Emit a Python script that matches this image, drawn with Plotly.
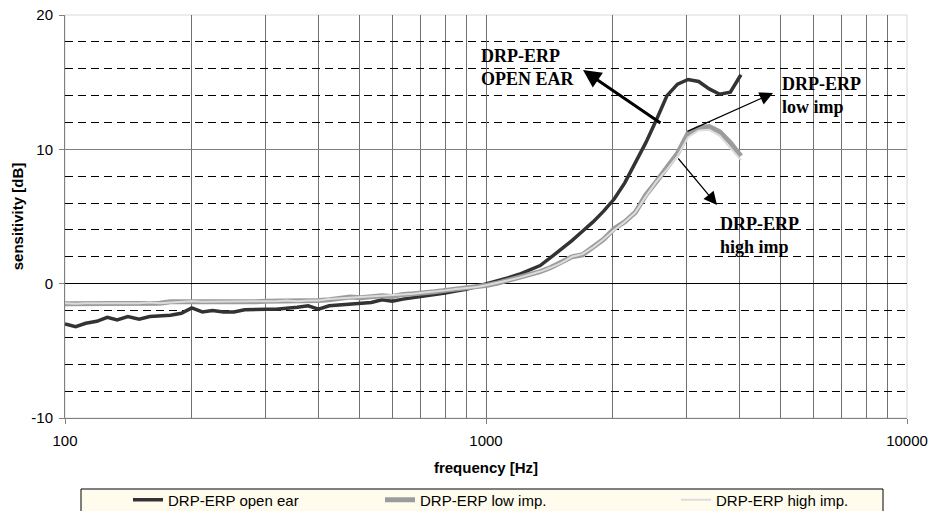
import plotly.graph_objects as go

freq_hz = [100, 106, 112, 119, 126, 133, 141, 150, 159, 168, 178, 189, 200, 212, 224, 238,
           252, 267, 283, 300, 317, 336, 356, 378, 400, 424, 449, 476, 504, 534, 566, 599,
           635, 673, 713, 755, 800, 848, 898, 951, 1008, 1068, 1131, 1199, 1270, 1345, 1425,
           1510, 1600, 1695, 1796, 1903, 2016, 2136, 2263, 2397, 2540, 2691, 2851, 3020, 3200,
           3390, 3592, 3805, 4032]

open_ear = [-3.0, -3.2, -2.95, -2.8, -2.5, -2.7, -2.45, -2.65, -2.45, -2.4,
            -2.35, -2.2, -1.8, -2.1, -2.0, -2.1, -2.1, -1.95, -1.9, -1.9,
            -1.9, -1.85, -1.75, -1.65, -1.9, -1.65, -1.6, -1.55, -1.5, -1.4,
            -1.2, -1.3, -1.15, -1.05, -0.95, -0.8, -0.7, -0.55, -0.42, -0.2,
            0.0, 0.25, 0.45, 0.7, 1.0, 1.35, 1.95, 2.55, 3.2, 3.9,
            4.6, 5.4, 6.3, 7.5, 9.0, 10.5, 12.2, 14.0, 14.85, 15.2,
            15.05, 14.5, 14.1, 14.25, 15.55]

low_imp = [-1.5, -1.5, -1.5, -1.45, -1.5, -1.45, -1.45, -1.5, -1.45, -1.45,
           -1.35, -1.35, -1.35, -1.35, -1.4, -1.35, -1.35, -1.35, -1.35, -1.3,
           -1.3, -1.3, -1.3, -1.3, -1.25, -1.2, -1.1, -1.0, -1.05, -0.95,
           -0.9, -0.95, -0.8, -0.75, -0.7, -0.6, -0.5, -0.42, -0.35, -0.25,
           -0.12, 0.05, 0.25, 0.45, 0.65, 0.9, 1.2, 1.6, 2.0, 2.15,
           2.7, 3.3, 4.1, 4.6, 5.3, 6.6, 7.6, 8.6, 9.7, 11.2,
           11.6, 11.7, 11.3, 10.5, 9.5]

high_imp = [-1.45, -1.5, -1.45, -1.45, -1.45, -1.5, -1.45, -1.45, -1.4, -1.45,
            -1.4, -1.35, -1.3, -1.35, -1.35, -1.35, -1.3, -1.35, -1.3, -1.3,
            -1.3, -1.25, -1.3, -1.25, -1.25, -1.15, -1.1, -1.05, -1.0, -0.95,
            -0.9, -0.9, -0.8, -0.75, -0.65, -0.6, -0.5, -0.4, -0.35, -0.25,
            -0.1, 0.05, 0.25, 0.45, 0.65, 0.9, 1.2, 1.55, 2.0, 2.2,
            2.7, 3.3, 4.0, 4.6, 5.3, 6.5, 7.6, 8.5, 9.5, 10.9,
            11.4, 11.45, 11.0, 10.1, 9.2]

major_x_ticks = [100, 1000, 10000]
minor_x_ticks = [200, 300, 400, 500, 600, 700, 800, 900,
                 2000, 3000, 4000, 5000, 6000, 7000, 8000, 9000]
y_ticks = [-10, 0, 10, 20]

W, H = 933, 511
ML, MR, MT, MB = 65, 26, 15, 93
PW, PH = W - ML - MR, H - MT - MB


def px(xp):
    return (xp - ML) / PW


def py(yp):
    return (H - MB - yp) / PH


fig = go.Figure()
fig.add_trace(go.Scatter(x=freq_hz, y=open_ear, mode="lines", name="DRP-ERP open ear",
                         line=dict(color="#333333", width=3.5), legend="legend"))
fig.add_trace(go.Scatter(x=freq_hz, y=low_imp, mode="lines", name="DRP-ERP low imp.",
                         line=dict(color="#9c9c9c", width=5), legend="legend2"))
fig.add_trace(go.Scatter(x=freq_hz, y=high_imp, mode="lines", name="DRP-ERP high imp.",
                         line=dict(color="#dcdcdc", width=2), legend="legend3"))

# legend box
fig.add_shape(type="rect", xref="paper", yref="paper",
              x0=px(81), x1=px(883), y0=py(515), y1=py(489),
              fillcolor="#FFFCEE", line=dict(color="black", width=1), layer="below")
# plot area light border
fig.add_shape(type="rect", xref="paper", yref="paper", x0=0, x1=1, y0=0, y1=1,
              line=dict(color="#d8d8d8", width=1), layer="below")

font_sans = "Liberation Sans, Arial, sans-serif"
font_serif = "Liberation Serif, Times New Roman, serif"

leg_common = dict(orientation="h", bgcolor="rgba(0,0,0,0)", borderwidth=0,
                  font=dict(family=font_sans, size=15, color="black"),
                  yanchor="middle", xanchor="left", itemwidth=30)


def arrow(x_head, y_head, x_tail, y_tail, width, size):
    fig.add_annotation(xref="paper", yref="paper", axref="pixel", ayref="pixel",
                       x=px(x_head), y=py(y_head), ax=x_tail - x_head, ay=y_tail - y_head,
                       text="", showarrow=True, arrowhead=2, arrowsize=size,
                       arrowwidth=width, arrowcolor="black")


arrow(583, 70, 662, 124, 3, 1.2)
arrow(773, 93, 686, 132, 1.2, 2.2)
arrow(717, 205, 677, 157, 1.2, 2.2)

labels = [("DRP-ERP<br>OPEN EAR", 479, 44), ("DRP-ERP<br>low imp", 780, 72),
          ("DRP-ERP<br>high imp", 718, 212)]
for txt, xl, yt in labels:
    fig.add_annotation(xref="paper", yref="paper", x=px(xl), y=py(yt), text="<b>" + txt + "</b>",
                       showarrow=False, xanchor="left", yanchor="top", align="left",
                       font=dict(family=font_serif, size=18, color="black"))

fig.update_layout(
    width=W, height=H,
    margin=dict(l=ML, r=MR, t=MT, b=MB, pad=0, autoexpand=False),
    paper_bgcolor="white", plot_bgcolor="white",
    font=dict(family=font_sans, size=15, color="black"),
    showlegend=True,
    legend=dict(**leg_common, x=px(128), y=py(500)),
    legend2=dict(**leg_common, x=px(380), y=py(500)),
    legend3=dict(**leg_common, x=px(676), y=py(500)),
    xaxis=dict(type="log", range=[2, 4], tickvals=major_x_ticks,
               ticktext=[str(v) for v in major_x_ticks],
               ticks="outside", ticklen=5, tickcolor="#808080",
               showgrid=True, gridcolor="#707070", gridwidth=1,
               minor=dict(tickvals=minor_x_ticks, showgrid=True, gridcolor="#707070",
                          gridwidth=1, ticks=""),
               showline=True, linecolor="#808080", linewidth=1,
               zeroline=False, ticklabelstandoff=4, automargin=False,
               tickfont=dict(family=font_sans, size=15, color="black"),
               title=dict(text="<b>frequency [Hz]</b>", standoff=14,
                          font=dict(family=font_sans, size=15, color="black"))),
    yaxis=dict(range=[-10, 20], tickvals=y_ticks, ticktext=[str(v) for v in y_ticks],
               ticks="outside", ticklen=5, tickcolor="#808080",
               showgrid=True, gridcolor="#808080", gridwidth=1,
               minor=dict(dtick=2, tick0=0, showgrid=True, gridcolor="black",
                          gridwidth=1, griddash="8px,5px", ticks=""),
               showline=True, linecolor="#808080", linewidth=1,
               zeroline=True, zerolinecolor="black", zerolinewidth=1,
               ticklabelstandoff=3, automargin=False,
               tickfont=dict(family=font_sans, size=15, color="black"),
               title=dict(text="<b>sensitivity [dB]</b>", standoff=4,
                          font=dict(family=font_sans, size=15, color="black"))),
)

fig.write_html("out.html", config={"displayModeBar": False},
               post_script="document.body.style.margin='0';")
